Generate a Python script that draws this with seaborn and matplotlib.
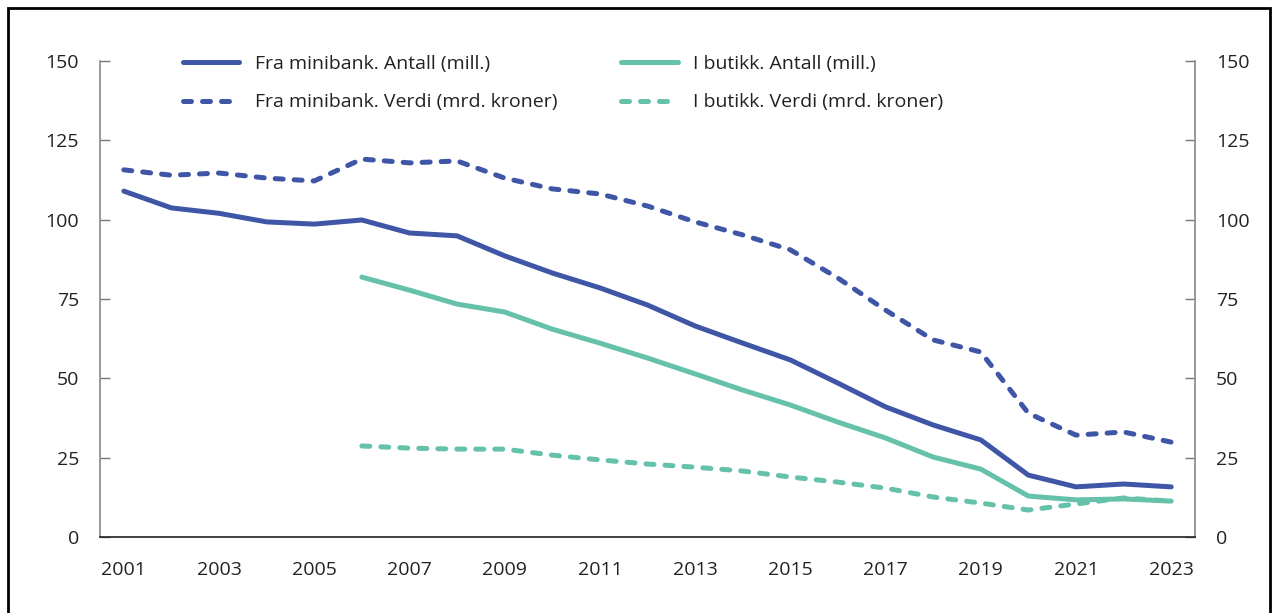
import pandas as pd
import numpy as np
import matplotlib
matplotlib.use("Agg")
import matplotlib.pyplot as plt
import seaborn as sns
from matplotlib.patches import Rectangle
from matplotlib.lines import Line2D

# Data
years = list(range(2001, 2024))
minibank_antall = [109.0, 103.7, 102.0, 99.3, 98.6, 99.9, 95.8, 94.9, 88.6, 83.2, 78.5, 73.1,
                   66.5, 61.1, 55.8, 48.5, 41.0, 35.3, 30.6, 19.5, 15.8, 16.7, 15.8]
minibank_verdi = [115.7, 114.0, 114.7, 113.1, 112.2, 119.1, 117.9, 118.5, 113.1, 109.7, 108.1, 104.3,
                  99.3, 95.2, 90.5, 81.6, 71.5, 62.1, 58.3, 39.0, 32.1, 33.1, 29.9]
butikk_years = list(range(2006, 2024))
butikk_antall = [81.9, 77.8, 73.4, 70.9, 65.5, 61.1, 56.4, 51.4, 46.3, 41.6, 36.2, 31.2,
                 25.2, 21.4, 12.9, 11.7, 12.0, 11.3]
butikk_verdi = [28.7, 28.0, 27.7, 27.7, 25.8, 24.3, 23.0, 22.0, 20.8, 18.9, 17.3, 15.4,
                12.6, 10.7, 8.5, 10.4, 12.3, 11.3]

labels = ["Fra minibank. Antall (mill.)", "I butikk. Antall (mill.)",
          "Fra minibank. Verdi (mrd. kroner)", "I butikk. Verdi (mrd. kroner)"]
blue = "#3f56a6"
teal = "#65c1aa"

sns.set_style("white")
plt.rcParams["font.family"] = ["Open Sans", "DejaVu Sans"]
fs = 14

fig = plt.figure(figsize=(12.73, 6.13), dpi=100)
ax = fig.add_axes([100 / 1273, 1 - 537 / 613, 1095 / 1273, 476 / 613])

lw = 3.6
dash = (1.6, 2.2)
series = [
    (years, minibank_antall, blue, None),
    (years, minibank_verdi, blue, dash),
    (butikk_years, butikk_antall, teal, None),
    (butikk_years, butikk_verdi, teal, dash),
]
for xs, ys, col, ds in series:
    d = pd.DataFrame({"year": xs, "value": ys})
    sns.lineplot(data=d, x="year", y="value", ax=ax, color=col, linewidth=lw)
    line = ax.lines[-1]
    line.set_solid_capstyle("round")
    line.set_dash_capstyle("round")
    line.set_solid_joinstyle("round")
    if ds is not None:
        line.set_dashes(ds)

ax.set_xlim(2000.5, 2023.5)
ax.set_ylim(0, 150)
ax.set_xlabel("")
ax.set_ylabel("")

# x axis: ticks between years, labels every second year
ax.set_xticks(years[::2])
ax.set_xticks(np.arange(2000.5, 2024, 1.0), minor=True)
ax.tick_params(axis="x", which="major", length=0, pad=17, labelsize=fs, colors="#222222")
ax.tick_params(axis="x", which="minor", length=7, direction="in", color="#555555", width=1)

yt = [0, 25, 50, 75, 100, 125, 150]
ax.set_yticks(yt)
ax.tick_params(axis="y", which="major", length=7, direction="in", color="#777777", width=1,
               labelsize=fs, colors="#222222", pad=15, left=True, right=True,
               labelleft=True, labelright=True)

ax.spines["top"].set_visible(False)
for s in ["left", "right"]:
    ax.spines[s].set_color("#888888")
    ax.spines[s].set_linewidth(1.2)
ax.spines["bottom"].set_color("#222222")
ax.spines["bottom"].set_linewidth(1.2)
ax.grid(False)

handles = [
    Line2D([], [], color=blue, lw=lw, solid_capstyle="round"),
    Line2D([], [], color=teal, lw=lw, solid_capstyle="round"),
    Line2D([], [], color=blue, lw=lw, dashes=dash, dash_capstyle="round"),
    Line2D([], [], color=teal, lw=lw, dashes=dash, dash_capstyle="round"),
]
# column 1 holds minibank, column 2 holds butikk
leg = ax.legend([handles[0], handles[2], handles[1], handles[3]],
                [labels[0], labels[2], labels[1], labels[3]],
                ncol=2, frameon=False, loc="upper left",
                bbox_to_anchor=(83 / 1095, (537 - 55) / 476), borderaxespad=0,
                borderpad=0, handlelength=2.9, handletextpad=0.8,
                columnspacing=3.28, labelspacing=1.05, fontsize=fs)
for t in leg.get_texts():
    t.set_color("#222222")

# outer frame
fig.patches.append(Rectangle((8 / 1273, -0.1), 1262 / 1273, 1.1 - 8 / 613,
                             transform=fig.transFigure, fill=False,
                             edgecolor="black", linewidth=2))

fig.savefig("out.png", dpi=100)
